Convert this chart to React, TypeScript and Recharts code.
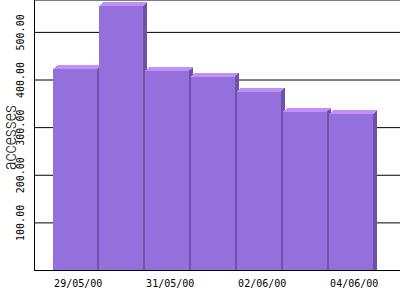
import React from 'react';
import { BarChart, Bar, XAxis, YAxis, CartesianGrid, ReferenceLine } from 'recharts';

const dates = ['29/05/00', '30/05/00', '31/05/00', '01/06/00', '02/06/00', '03/06/00', '04/06/00'];
const accesses = [431, 563, 427, 415, 384, 341, 336];
const yTicks = [100, 200, 300, 400, 500];

const data = dates.map((d, i) => ({ date: d, accesses: accesses[i] }));

const FRONT = '#9370DB';
const TOP = '#C08FF8';
const SIDE = '#6F52A8';

const Bar3D = (props: any) => {
  const { x, y, width, height } = props;
  if (height == null || width == null) return null;
  const d = 4.5;
  const v = 4;
  const fw = width - 2;
  return (
    <g shapeRendering="crispEdges">
      <polygon
        points={`${x + fw},${y + v} ${x + fw + d},${y} ${x + fw + d},${y + height} ${x + fw},${y + height + v}`}
        fill={SIDE}
      />
      <polygon
        points={`${x},${y + v} ${x + d},${y} ${x + fw + d},${y} ${x + fw},${y + v}`}
        fill={TOP}
      />
      <rect x={x} y={y + v} width={fw} height={height} fill={FRONT} />
    </g>
  );
};

const XTick = (props: any) => {
  const { x, y, payload } = props;
  return (
    <text
      x={x + 2.5}
      y={y + 8}
      textAnchor="middle"
      fontFamily="'DejaVu Sans Mono', monospace"
      fontSize={10}
      fill="#000"
    >
      {payload.value}
    </text>
  );
};

const YTick = (props: any) => {
  const { y, payload } = props;
  const cx = 21;
  return (
    <text
      x={cx}
      y={y}
      transform={`rotate(-90 ${cx} ${y})`}
      textAnchor="middle"
      dominantBaseline="central"
      fontFamily="'DejaVu Sans Mono', monospace"
      fontSize={10}
      fill="#000"
    >
      {Number(payload.value).toFixed(2)}
    </text>
  );
};

const YTitle = () => (
  <text
    x={9.5}
    y={137.5}
    transform="rotate(-90 9.5 137.5)"
    textAnchor="middle"
    dominantBaseline="central"
    fontFamily="Roboto, 'Liberation Sans', sans-serif"
    fontWeight={300}
    fontSize={18}
    textLength={65}
    lengthAdjust="spacingAndGlyphs"
    fill="#111"
  >
    accesses
  </text>
);

export default function App() {
  return (
    <div style={{ position: 'absolute', left: 0, top: 0, width: 400, height: 300, background: '#fff' }}>
      <BarChart
        width={400}
        height={300}
        data={data}
        margin={{ top: 0, right: 0, bottom: 0, left: 0 }}
        barCategoryGap={0}
        barGap={0}
      >
        <CartesianGrid horizontal vertical={false} stroke="#000" strokeWidth={1} />
        <XAxis
          dataKey="date"
          height={29.5}
          interval={1}
          padding={{ left: 18.2, right: 25.3 }}
          axisLine={{ stroke: '#000', strokeWidth: 1 }}
          tickLine={false}
          tick={<XTick />}
        />
        <YAxis
          width={34.5}
          domain={[0, 568]}
          ticks={yTicks}
          allowDataOverflow
          axisLine={{ stroke: '#000', strokeWidth: 1 }}
          tickLine={false}
          tick={<YTick />}
          label={<YTitle />}
        />
        <Bar dataKey="accesses" shape={<Bar3D />} isAnimationActive={false} />
        <ReferenceLine y={0} stroke="#000" strokeWidth={1} ifOverflow="visible" />
      </BarChart>
    </div>
  );
}
